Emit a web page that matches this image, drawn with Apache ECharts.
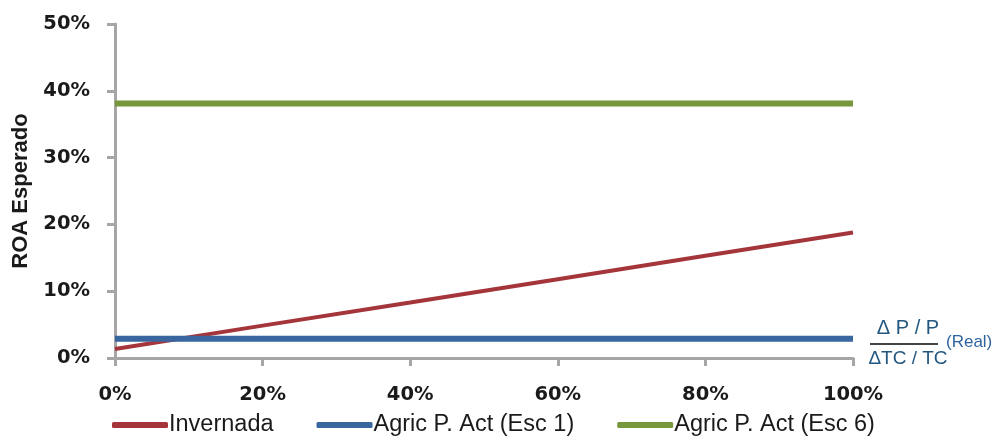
<!DOCTYPE html>
<html>
<head>
<meta charset="utf-8">
<script src="https://cdn.jsdelivr.net/npm/echarts@6/dist/echarts.min.js"></script>
<style>
  html, body { margin: 0; padding: 0; background: #fff; }
  #chart { width: 999px; height: 437px; }
</style>
</head>
<body>
<div id="chart"></div>
<script>
// Elasticity of price relative to exchange rate (x) vs expected ROA (y)
const xValues = [0, 20, 40, 60, 80, 100];
const invernada = [1.35, 4.85, 8.3, 11.8, 15.3, 18.8];
const agricEsc1 = [2.9, 2.9, 2.9, 2.9, 2.9, 2.9];
const agricEsc6 = [38.1, 38.1, 38.1, 38.1, 38.1, 38.1];
const seriesNames = ['Invernada', 'Agric P. Act (Esc 1)', 'Agric P. Act (Esc 6)'];
const seriesColors = ['#a4353a', '#3a66a0', '#77973d'];
const yAxisTitle = 'ROA Esperado';

const pairs = arr => xValues.map((x, i) => [x, arr[i]]);
const chart = echarts.init(document.getElementById('chart'));
const tickFont = { fontFamily: 'DejaVu Sans', fontWeight: 'bold', fontSize: 19.5, color: '#1a1a1a' };
const noteColor = '#24577f';

chart.setOption({
  animation: false,
  grid: { left: 115, top: 24, right: 146, bottom: 79 },
  legend: {
    top: 408, left: 107,
    itemWidth: 56, itemHeight: 6, itemGap: 43,
    icon: 'roundRect',
    textStyle: { fontFamily: 'Liberation Sans', fontSize: 23.5, color: '#1a1a1a', padding: [0, 0, 0, -4] },
    data: seriesNames
  },
  xAxis: {
    type: 'value', min: 0, max: 100, interval: 20,
    axisLine: { lineStyle: { color: '#a6a6a6', width: 3 } },
    axisTick: { show: true, length: 8, lineStyle: { color: '#a6a6a6', width: 3 } },
    axisLabel: Object.assign({}, tickFont, { margin: 27, formatter: v => v + '%' }),
    splitLine: { show: false }
  },
  yAxis: {
    type: 'value', min: 0, max: 50, interval: 10,
    name: yAxisTitle, nameLocation: 'middle', nameGap: 81, nameRotate: 90,
    nameTextStyle: { fontFamily: 'Liberation Sans', fontWeight: 'bold', fontSize: 22, color: '#1a1a1a' },
    axisLine: { show: true, lineStyle: { color: '#a6a6a6', width: 3 } },
    axisTick: { show: true, length: 8, lineStyle: { color: '#a6a6a6', width: 3 } },
    axisLabel: Object.assign({}, tickFont, { margin: 25, formatter: v => v + '%' }),
    splitLine: { show: false }
  },
  series: [
    { name: seriesNames[0], type: 'line', data: pairs(invernada), symbol: 'none', lineStyle: { width: 4, color: seriesColors[0] }, itemStyle: { color: seriesColors[0] } },
    { name: seriesNames[1], type: 'line', data: pairs(agricEsc1), symbol: 'none', lineStyle: { width: 6, color: seriesColors[1] }, itemStyle: { color: seriesColors[1] } },
    { name: seriesNames[2], type: 'line', data: pairs(agricEsc6), symbol: 'none', lineStyle: { width: 6, color: seriesColors[2] }, itemStyle: { color: seriesColors[2] } }
  ],
  graphic: [
    { type: 'text', x: 908, y: 318, style: { text: 'Δ P / P', textAlign: 'center', font: '20px Liberation Sans', fill: noteColor } },
    { type: 'line', shape: { x1: 870, y1: 344, x2: 938, y2: 344 }, style: { stroke: '#444', lineWidth: 2 } },
    { type: 'text', x: 908, y: 349, style: { text: 'ΔTC / TC', textAlign: 'center', font: '19px Liberation Sans', fill: noteColor } },
    { type: 'text', x: 946, y: 334, style: { text: '(Real)', font: '17px Liberation Sans', fill: '#2f64a0' } }
  ]
});
</script>
</body>
</html>
